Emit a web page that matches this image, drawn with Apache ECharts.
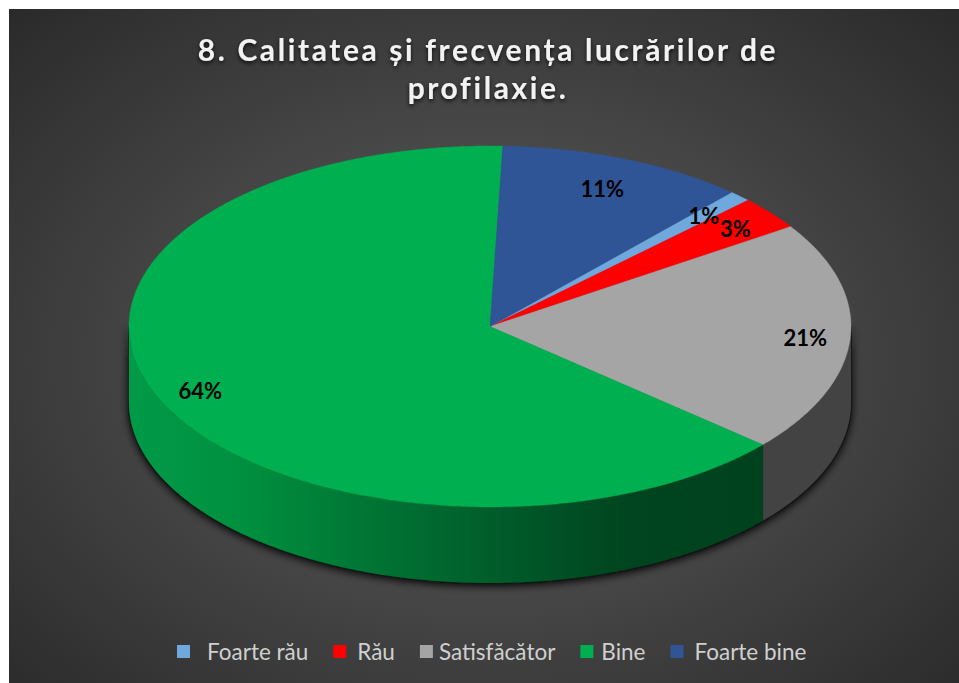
<!DOCTYPE html>
<html>
<head>
<meta charset="utf-8">
<style>
html,body{margin:0;padding:0;background:#fff;width:959px;height:683px;overflow:hidden}
#panel{position:absolute;left:9px;top:9px;width:950px;height:674px;
background:radial-gradient(ellipse farthest-corner at 50% 52%,#5e5e5e 0%,#4d4d4d 35%,#2a2a2a 100%)}
#chart{position:absolute;left:0;top:0;width:959px;height:683px}
#chart svg text[style*="30px"]{letter-spacing:2.6px}
</style>
<script src="https://cdn.jsdelivr.net/npm/echarts@6/dist/echarts.min.js"></script>
</head>
<body>
<div id="panel"></div>
<div id="chart"></div>
<script>
const titleText = '8. Calitatea și frecvența lucrărilor de\nprofilaxie.';
const categories = ['Foarte rău', 'Rău', 'Satisfăcător', 'Bine', 'Foarte bine'];
const shares = [1, 3, 20.7, 64.2, 11.1];
const topColors = ['#6fa8dc', '#ff0000', '#a5a5a5', '#00b050', '#2f5597'];
const labelRadius = [0.856, 0.875, 0.875, 0.875, 0.83];
const legendTextGaps = [17, 11, 6, 8, 11];

const cx = 490, cy = 326.5, rx = 361, ry = 180.5, depth = 76, firstAngle = 42;
const total = shares.reduce((a, b) => a + b, 0);
const greenWall = {type:'linear',global:true,x:129,y:0,x2:763,y2:0,colorStops:[
  {offset:0,color:'#009a48'},{offset:0.19,color:'#008f3f'},{offset:0.3,color:'#007f38'},
  {offset:0.58,color:'#005c2a'},{offset:0.78,color:'#00451f'},{offset:1,color:'#00421e'}]};
const greyWall = '#434343';

function pt(deg, dy) {
  const t = deg * Math.PI / 180;
  return [cx + rx * Math.sin(t), cy - ry * Math.cos(t) + (dy || 0)];
}
function arc(a, b, dy) {
  const out = [], n = Math.max(2, Math.ceil(Math.abs(b - a) * 2));
  for (let i = 0; i <= n; i++) out.push(pt(a + (b - a) * i / n, dy));
  return out;
}
function renderSlice(index) {
  return function (params, api) {
    const v = api.value(0);
    let start = firstAngle;
    for (let i = 0; i < index; i++) start += shares[i] / total * 360;
    const end = start + v / total * 360;
    const children = [];
    if (index === 0) {
      const sil = arc(90, 270, depth).concat(arc(270, 90, 0));
      children.push({type:'polygon',z2:0,shape:{points:sil},
        style:{fill:'#111',stroke:'#111',lineWidth:2,shadowBlur:8,shadowColor:'rgba(0,0,0,1)',shadowOffsetY:2}});
    }
    const wa = Math.max(start, 90), wb = Math.min(end, 270);
    if (wb > wa) {
      const pts = arc(wa, wb, 0).concat(arc(wb, wa, depth));
      const fill = categories[index] === 'Bine' ? greenWall : greyWall;
      children.push({type:'polygon',z2:1,shape:{points:pts},style:{fill:fill,stroke:fill,lineWidth:0.4}});
    }
    const top = [[cx, cy]].concat(arc(start, end, 0));
    children.push({type:'polygon',z2:2,shape:{points:top},
      style:{fill:topColors[index],stroke:topColors[index],lineWidth:0.4}});
    const mid = (start + end) / 2, f = labelRadius[index], t = mid * Math.PI / 180;
    children.push({type:'text',z2:5,
      x:cx + rx * f * Math.sin(t), y:cy - ry * f * Math.cos(t) + 1,
      style:{text:Math.round(v / total * 100) + '%',fill:'#000',
        font:'bold 22px Lato, sans-serif',align:'center',verticalAlign:'middle'}});
    return {type:'group',children:children};
  };
}

const chart = echarts.init(document.getElementById('chart'), null, {renderer:'svg', width:959, height:683});
chart.setOption({
  animation:false,
  backgroundColor:'transparent',
  title:{
    text:titleText,left:483,top:25,textAlign:'center',
    textStyle:{fontFamily:'Lato, sans-serif',fontWeight:'bold',fontSize:30,lineHeight:38,color:'#f2f2f2',
      textShadowColor:'rgba(0,0,0,0.8)',textShadowBlur:4,textShadowOffsetY:2}
  },
  legend:{
    left:172,top:635,itemGap:25,itemWidth:13,itemHeight:13,icon:'rect',
    textStyle:{fontFamily:'Lato, sans-serif',fontSize:22.5,color:'#d0d0d0'},
    data:categories.map((name,i)=>({name:name,textStyle:{padding:[0,0,0,legendTextGaps[i]-5]}}))
  },
  series:categories.map((name,i)=>({
    type:'custom',name:name,coordinateSystem:'none',silent:true,
    itemStyle:{color:topColors[i]},
    data:[[shares[i]]],
    renderItem:renderSlice(i)
  }))
});
</script>
</body>
</html>
